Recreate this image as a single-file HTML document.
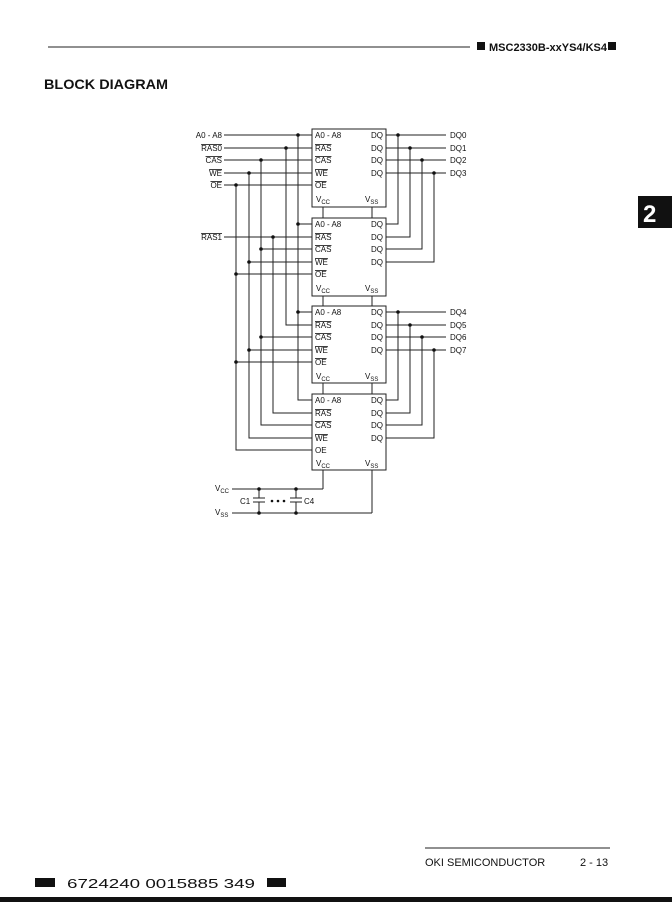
<!DOCTYPE html>
<html><head><meta charset="utf-8"><style>
html,body{margin:0;padding:0;background:#fff;}
svg{display:block;}
text{font-family:"Liberation Sans",sans-serif;fill:#111;}
</style></head><body>
<svg width="672" height="902" viewBox="0 0 672 902" xmlns="http://www.w3.org/2000/svg">
<!-- header -->
<line x1="48" y1="47" x2="470" y2="47" stroke="#222" stroke-width="1"/>
<rect x="477" y="42" width="8" height="8" fill="#111"/>
<text x="489" y="51" font-size="11" font-weight="bold">MSC2330B-xxYS4/KS4</text>
<rect x="608" y="42" width="8" height="8" fill="#111"/>
<text x="44" y="89" font-size="14" font-weight="bold" textLength="124" lengthAdjust="spacingAndGlyphs">BLOCK DIAGRAM</text>
<rect x="638" y="196" width="34" height="32" fill="#111"/>
<text x="643" y="222" font-size="24" font-weight="bold" style="fill:#fff">2</text>

<g stroke="#222" stroke-width="1" fill="none">
<!-- boxes -->
<rect x="312" y="129" width="74" height="78"/>
<rect x="312" y="218" width="74" height="78"/>
<rect x="312" y="306" width="74" height="77"/>
<rect x="312" y="394" width="74" height="76"/>
<!-- A0 -->
<path d="M224 135H312 M298 135V400H312 M298 224H312 M298 312H312"/>
<!-- RAS0 -->
<path d="M224 148H312 M286 148V325H312"/>
<!-- RAS1 -->
<path d="M224 237H312 M273 237V413H312"/>
<!-- CAS -->
<path d="M224 160H312 M261 160V425H312 M261 249H312 M261 337H312"/>
<!-- WE -->
<path d="M224 173H312 M249 173V438H312 M249 262H312 M249 350H312"/>
<!-- OE -->
<path d="M224 185H312 M236 185V450H312 M236 274H312 M236 362H312"/>
<!-- DQ top -->
<path d="M386 135H446 M398 135V224H386 M386 148H446 M410 148V237H386 M386 160H446 M422 160V249H386 M386 173H446 M434 173V262H386"/>
<!-- DQ bottom -->
<path d="M386 312H446 M398 312V400H386 M386 325H446 M410 325V413H386 M386 337H446 M422 337V425H386 M386 350H446 M434 350V438H386"/>
<!-- vcc/vss -->
<path d="M323 207V218 M323 296V306 M323 383V394 M323 470V489 M372 207V218 M372 296V306 M372 383V394 M372 470V513"/>
<path d="M232 489H323 M232 513H372"/>
<path d="M259 489V498 M253 498H265 M253 502H265 M259 502V513 M296 489V498 M290 498H302 M290 502H302 M296 502V513"/>
</g>
<g fill="#111">
<circle cx="298" cy="135" r="1.8"/><circle cx="298" cy="224" r="1.8"/><circle cx="298" cy="312" r="1.8"/>
<circle cx="286" cy="148" r="1.8"/><circle cx="273" cy="237" r="1.8"/>
<circle cx="261" cy="160" r="1.8"/><circle cx="261" cy="249" r="1.8"/><circle cx="261" cy="337" r="1.8"/>
<circle cx="249" cy="173" r="1.8"/><circle cx="249" cy="262" r="1.8"/><circle cx="249" cy="350" r="1.8"/>
<circle cx="236" cy="185" r="1.8"/><circle cx="236" cy="274" r="1.8"/><circle cx="236" cy="362" r="1.8"/>
<circle cx="398" cy="135" r="1.8"/><circle cx="410" cy="148" r="1.8"/><circle cx="422" cy="160" r="1.8"/><circle cx="434" cy="173" r="1.8"/>
<circle cx="398" cy="312" r="1.8"/><circle cx="410" cy="325" r="1.8"/><circle cx="422" cy="337" r="1.8"/><circle cx="434" cy="350" r="1.8"/>
<circle cx="259" cy="489" r="1.8"/><circle cx="296" cy="489" r="1.8"/><circle cx="259" cy="513" r="1.8"/><circle cx="296" cy="513" r="1.8"/>
<circle cx="272" cy="501" r="1.3"/><circle cx="278" cy="501" r="1.3"/><circle cx="284" cy="501" r="1.3"/>
</g>

<!-- input labels -->
<g font-size="8" text-anchor="end">
<text x="222" y="138">A0 - A8</text>
<text x="222" y="151" text-decoration="overline">RAS0</text>
<text x="222" y="163" text-decoration="overline">CAS</text>
<text x="222" y="176" text-decoration="overline">WE</text>
<text x="222" y="188" text-decoration="overline">OE</text>
<text x="222" y="240" text-decoration="overline">RAS1</text>
</g>
<g font-size="8">
<text x="450" y="138">DQ0</text><text x="450" y="151">DQ1</text><text x="450" y="163">DQ2</text><text x="450" y="176">DQ3</text>
<text x="450" y="315">DQ4</text><text x="450" y="328">DQ5</text><text x="450" y="340">DQ6</text><text x="450" y="353">DQ7</text>
</g>

<!-- box labels -->
<g font-size="8">
<g transform="translate(0,0)">
<text x="315" y="138">A0 - A8</text><text x="315" y="151" text-decoration="overline">RAS</text><text x="315" y="163" text-decoration="overline">CAS</text><text x="315" y="176" text-decoration="overline">WE</text><text x="315" y="188" text-decoration="overline">OE</text>
<text x="371" y="138">DQ</text><text x="371" y="151">DQ</text><text x="371" y="163">DQ</text><text x="371" y="176">DQ</text>
<text x="316" y="202">V<tspan font-size="6" dy="2">CC</tspan></text><text x="365" y="202">V<tspan font-size="6" dy="2">SS</tspan></text>
</g>
<g transform="translate(0,89)">
<text x="315" y="138">A0 - A8</text><text x="315" y="151" text-decoration="overline">RAS</text><text x="315" y="163" text-decoration="overline">CAS</text><text x="315" y="176" text-decoration="overline">WE</text><text x="315" y="188" text-decoration="overline">OE</text>
<text x="371" y="138">DQ</text><text x="371" y="151">DQ</text><text x="371" y="163">DQ</text><text x="371" y="176">DQ</text>
<text x="316" y="202">V<tspan font-size="6" dy="2">CC</tspan></text><text x="365" y="202">V<tspan font-size="6" dy="2">SS</tspan></text>
</g>
<g transform="translate(0,177)">
<text x="315" y="138">A0 - A8</text><text x="315" y="151" text-decoration="overline">RAS</text><text x="315" y="163" text-decoration="overline">CAS</text><text x="315" y="176" text-decoration="overline">WE</text><text x="315" y="188" text-decoration="overline">OE</text>
<text x="371" y="138">DQ</text><text x="371" y="151">DQ</text><text x="371" y="163">DQ</text><text x="371" y="176">DQ</text>
<text x="316" y="202">V<tspan font-size="6" dy="2">CC</tspan></text><text x="365" y="202">V<tspan font-size="6" dy="2">SS</tspan></text>
</g>
<g transform="translate(0,265)">
<text x="315" y="138">A0 - A8</text><text x="315" y="151" text-decoration="overline">RAS</text><text x="315" y="163" text-decoration="overline">CAS</text><text x="315" y="176" text-decoration="overline">WE</text><text x="315" y="188">OE</text>
<text x="371" y="138">DQ</text><text x="371" y="151">DQ</text><text x="371" y="163">DQ</text><text x="371" y="176">DQ</text>
<text x="316" y="201">V<tspan font-size="6" dy="2">CC</tspan></text><text x="365" y="201">V<tspan font-size="6" dy="2">SS</tspan></text>
</g>
<text x="215" y="491">V<tspan font-size="6" dy="2">CC</tspan></text>
<text x="215" y="515">V<tspan font-size="6" dy="2">SS</tspan></text>
<text x="240" y="504">C1</text>
<text x="304" y="504">C4</text>
</g>

<!-- footer -->
<line x1="425" y1="848" x2="610" y2="848" stroke="#222" stroke-width="1"/>
<text x="425" y="866" font-size="11">OKI SEMICONDUCTOR</text>
<text x="580" y="866" font-size="11">2 - 13</text>
<rect x="35" y="878" width="20" height="9" fill="#111"/>
<text x="67" y="888" font-size="13" font-family="Liberation Mono" textLength="188" lengthAdjust="spacingAndGlyphs">6724240 0015885 349</text>
<rect x="267" y="878" width="19" height="9" fill="#111"/>
<rect x="0" y="897" width="672" height="5" fill="#111"/>
</svg>
</body></html>
